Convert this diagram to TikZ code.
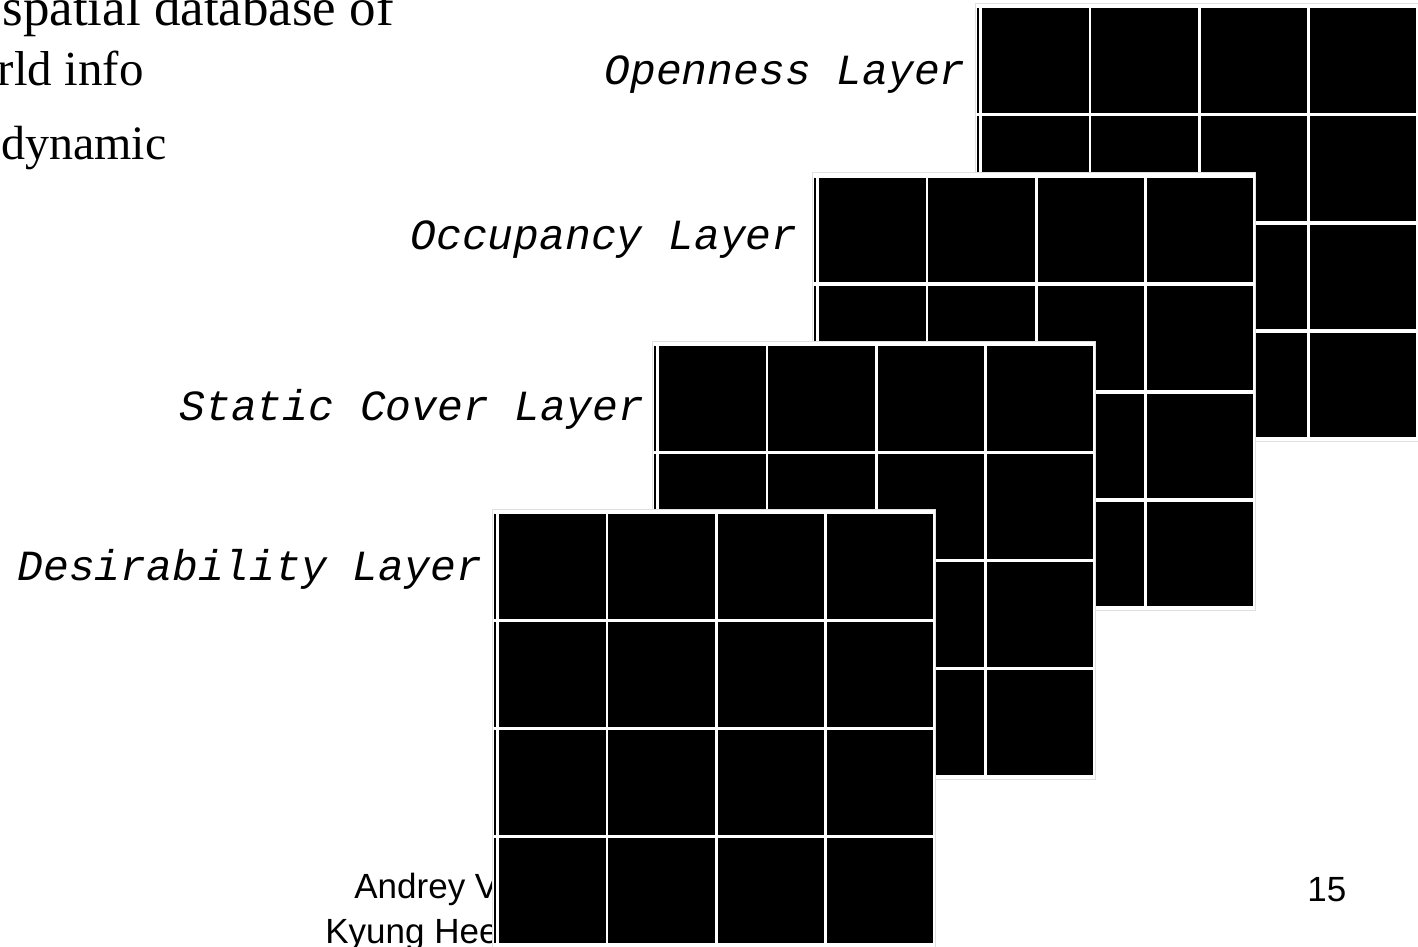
\documentclass[tikz,border=0pt]{standalone}
\usepackage{fontspec}
\setmainfont{Liberation Serif}
\setsansfont{Liberation Sans}
\setmonofont{Liberation Mono}
\usetikzlibrary{positioning}

\tikzset{
  layerlabel/.style={anchor=base west, inner sep=0pt, font=\ttfamily\itshape\fontsize{21.5}{24}\selectfont},
  slidetext/.style={inner sep=0pt, font=\fontsize{24.5}{30}\selectfont},
  footer/.style={anchor=base west, inner sep=0pt, font=\sffamily\fontsize{17.5}{21}\selectfont},
  backing/.style={fill=white, draw=black!12, line width=0.4pt},
  cell/.style={fill=black},
}

\begin{document}
\begin{tikzpicture}[x=0.5pt, y=-0.5pt]
    \useasboundingbox (0,0) rectangle (1418,947);
    \clip (0,0) rectangle (1418,947);
    \fill[white] (0,0) rectangle (1418,947);

    % slide text, cut off at the left edge
    \node[slidetext, anchor=base west, font=\fontsize{26.5}{30}\selectfont] (line1) at (2,26) {spatial database of};
    \node[slidetext, anchor=base east] (line2) at (144,86) {rld info};
    \node[slidetext, anchor=base east, font=\fontsize{24}{28}\selectfont] (line3) at (167,159) {dynamic};

    % footer, mostly hidden behind the front layer
    \node[footer] (author) at (354,898) {Andrey V};
    \node[footer] (school) at (325,943) {Kyung Hee};
    \node[footer] (pageno) at (1307,901) {15};

    % grid layers, back to front
    \foreach \lx/\ly in {982/8.5, 819/177.5, 659/346, 499/514} {
      \begin{scope}[shift={(\lx,\ly)}]
        \path[backing] (-7,-5) rectangle (436,433);
        \foreach \r in {0,...,3} {
          \fill (-5.5,\r*108) rectangle (-3,\r*108+104.5);
          \foreach \c in {0,...,3}
            \fill[cell] (\c*109.3,\r*108) rectangle (\c*109.3+106.5,\r*108+104.5);
        }
      \end{scope}
    }

    % layer names
    \node[layerlabel] (openL) at (604,85) {Openness Layer};
    \node[layerlabel] (occL) at (410,249) {Occupancy Layer};
    \node[layerlabel] (statL) at (179,420) {Static Cover Layer};
    \node[layerlabel] (desL) at (17,580) {Desirability Layer};
\end{tikzpicture}
\end{document}
